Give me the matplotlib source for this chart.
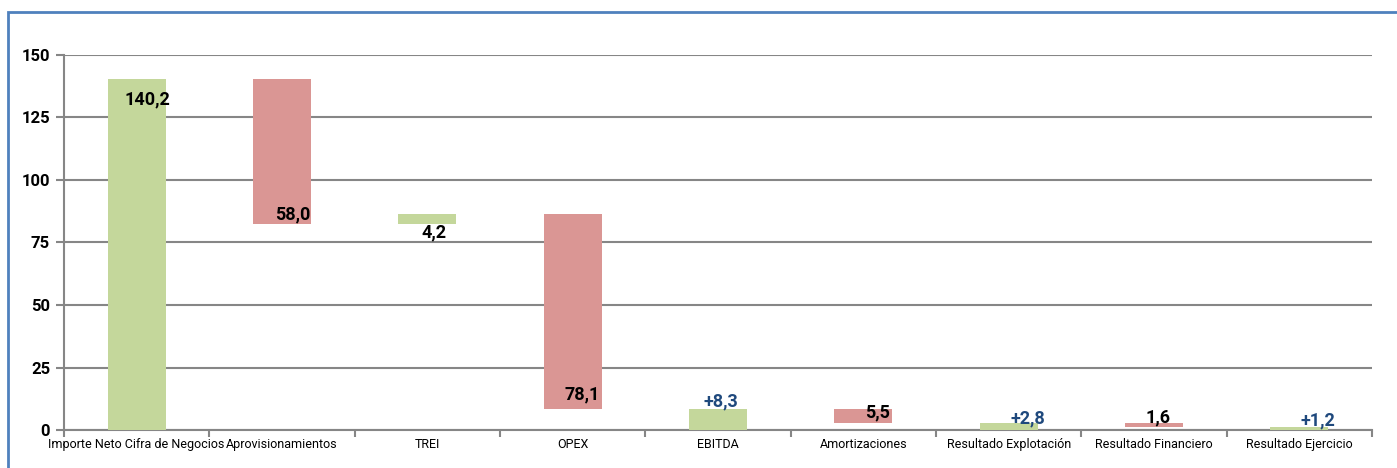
import matplotlib
matplotlib.use('Agg')
import matplotlib.pyplot as plt
import numpy as np
from matplotlib.patches import Rectangle

plt.rcParams['font.family'] = ['Liberation Sans Narrow', 'Roboto', 'DejaVu Sans']

# waterfall data
categories = ['Importe Neto Cifra de Negocios', 'Aprovisionamientos', 'TREI', 'OPEX',
              'EBITDA', 'Amortizaciones', 'Resultado Explotación',
              'Resultado Financiero', 'Resultado Ejercicio']
bottoms = [0, 82.2, 82.2, 8.3, 0, 2.8, 0, 1.2, 0]
heights = [140.2, 58.0, 4.2, 78.1, 8.3, 5.5, 2.8, 1.6, 1.2]
kinds = ['pos', 'neg', 'pos', 'neg', 'tot', 'neg', 'tot', 'neg', 'tot']
labels = ['140,2', '58,0', '4,2', '78,1', '+8,3', '5,5', '+2,8', '1,6', '+1,2']
yticks = [0, 25, 50, 75, 100, 125, 150]

GREEN = '#C4D79B'
RED = '#DA9694'
BLUE = '#1F497D'

fig = plt.figure(figsize=(13.97, 4.68), dpi=100)
# blue frame round the chart area
fig.patches.append(Rectangle((8 / 1397, -0.2), 1.2, 1.2 - 12 / 468, transform=fig.transFigure,
                             fill=False, edgecolor='#4F81BD', linewidth=2))
ax = fig.add_axes([64 / 1397, 1 - 430 / 468, (1372 - 64) / 1397, (430 - 55) / 468])

x = np.arange(len(categories))
colors = [RED if k == 'neg' else GREEN for k in kinds]
ax.bar(x, heights, bottom=bottoms, width=0.4, color=colors, zorder=3)

# label anchors: (value, pixel offset x, pixel offset y)
tops = [b + h for b, h in zip(bottoms, heights)]
anchor = [tops[0], bottoms[1], bottoms[2], bottoms[3], tops[4], tops[5], tops[6], tops[7], tops[8]]
offx = [11, 11, 7, 10, 3, 14, 19, 4, 19]
offy = [-20, 10, -8, 15, 8, -3, 5, 6, 7]
for i, lab in enumerate(labels):
    col = BLUE if lab.startswith('+') else 'black'
    ax.annotate(lab, (x[i], anchor[i]), xytext=(offx[i] * 0.72, offy[i] * 0.72),
                textcoords='offset points', ha='center', va='center',
                fontsize=13, fontweight='bold', color=col, zorder=5)

ax.set_xlim(-0.5, len(categories) - 0.5)
ax.set_ylim(0, 150)
ax.set_yticks(yticks)
ax.set_yticklabels([str(t) for t in yticks], fontsize=12, fontweight='bold')
ax.grid(axis='y', color='#868686', linewidth=1.5, zorder=0)

ax.set_xticks(x)
ax.set_xticklabels(categories, fontsize=9)
ax.set_xticks(np.arange(len(categories) + 1) - 0.5, minor=True)
ax.tick_params(axis='x', which='major', length=0, pad=6)
ax.tick_params(axis='x', which='minor', length=5, color='#868686', width=1.5)
ax.tick_params(axis='y', length=6, color='#868686', width=1.5, pad=4)

for s in ['top', 'right']:
    ax.spines[s].set_visible(False)
for s in ['left', 'bottom']:
    ax.spines[s].set_color('#868686')
    ax.spines[s].set_linewidth(1.5)

fig.savefig('out.png', dpi=100)
